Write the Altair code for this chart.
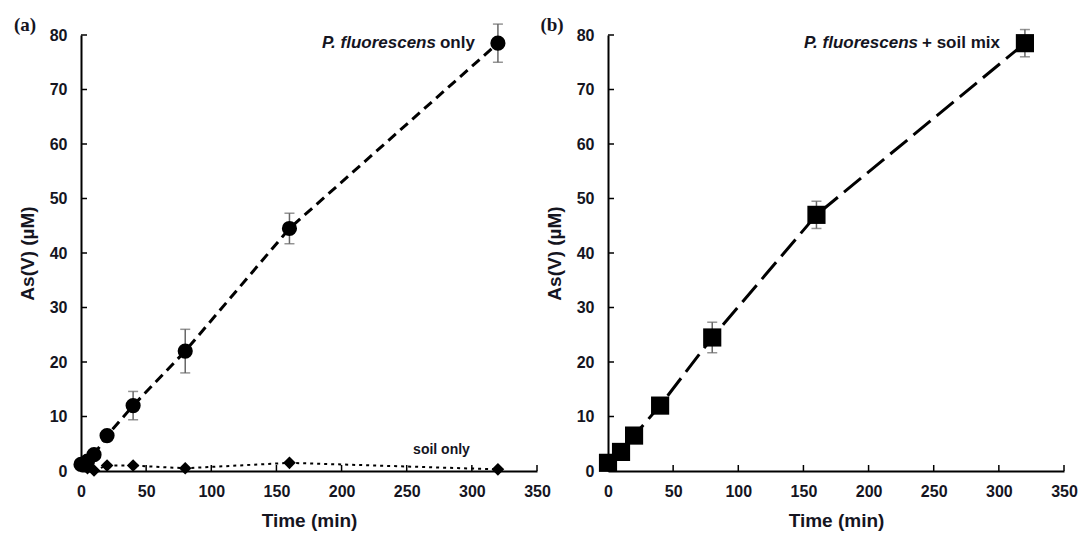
import altair as alt
import pandas as pd

# Panel (a): P. fluorescens only
t_a = [0, 5, 10, 20, 40, 80, 160, 320]
pf_a = [1.2, 1.8, 3.0, 6.5, 12.0, 22.0, 44.5, 78.5]
pf_a_err = [0.5, 0.5, 0.6, 0.8, 2.6, 4.0, 2.8, 3.5]
# soil only
soil_a = [0.9, 0.5, 0.1, 1.0, 1.0, 0.5, 1.5, 0.3]

# Panel (b): P. fluorescens + soil mix
t_b = [0, 10, 20, 40, 80, 160, 320]
mix_b = [1.5, 3.5, 6.5, 12.0, 24.5, 47.0, 78.5]
mix_b_err = [0.4, 0.5, 0.6, 0.8, 2.8, 2.5, 2.5]

x_ticks = [0, 50, 100, 150, 200, 250, 300, 350]
y_ticks = [0, 10, 20, 30, 40, 50, 60, 70, 80]

W, H = 456, 436
FONT = "Liberation Sans"
TXT = "#15151f"

xs = alt.Scale(domain=[0, 350], nice=False, zero=True)
ys = alt.Scale(domain=[0, 80], nice=False)

x_axis = alt.Axis(values=x_ticks, title="Time (min)", ticks=False, labelFlush=False)
y_axis = alt.Axis(values=y_ticks, title="As(V) (µM)", ticks=False, labelFlush=False)

df_pf = pd.DataFrame({"t": t_a, "v": pf_a,
                      "lo": [v - e for v, e in zip(pf_a, pf_a_err)],
                      "hi": [v + e for v, e in zip(pf_a, pf_a_err)]})
df_soil = pd.DataFrame({"t": t_a, "v": soil_a})
df_mix = pd.DataFrame({"t": t_b, "v": mix_b,
                       "lo": [v - e for v, e in zip(mix_b, mix_b_err)],
                       "hi": [v + e for v, e in zip(mix_b, mix_b_err)]})
df_xt = pd.DataFrame({"x": x_ticks})
df_yt = pd.DataFrame({"y": y_ticks})


def tick_layers():
    xt = alt.Chart(df_xt).mark_rule(color="black", strokeWidth=1.5).encode(
        x=alt.X("x:Q", scale=xs, axis=x_axis), y=alt.value(H), y2=alt.value(H - 6))
    yt = alt.Chart(df_yt).mark_rule(color="black", strokeWidth=1.5).encode(
        y=alt.Y("y:Q", scale=ys, axis=y_axis), x=alt.value(0), x2=alt.value(6))
    return [xt, yt]


def err_layers(df):
    base = alt.Chart(df)
    bar = base.mark_rule(color="#666", strokeWidth=1.5).encode(
        x=alt.X("t:Q", scale=xs, axis=x_axis),
        y=alt.Y("lo:Q", scale=ys, axis=y_axis), y2="hi:Q")
    cap_lo = base.mark_tick(color="#666", orient="horizontal", size=10, thickness=1.5).encode(
        x=alt.X("t:Q", scale=xs, axis=x_axis), y=alt.Y("lo:Q", scale=ys, axis=y_axis))
    cap_hi = base.mark_tick(color="#666", orient="horizontal", size=10, thickness=1.5).encode(
        x=alt.X("t:Q", scale=xs, axis=x_axis), y=alt.Y("hi:Q", scale=ys, axis=y_axis))
    return [bar, cap_lo, cap_hi]


def series(df, dash, width, shape, size):
    base = alt.Chart(df).encode(x=alt.X("t:Q", scale=xs, axis=x_axis),
                                y=alt.Y("v:Q", scale=ys, axis=y_axis))
    line = base.mark_line(color="black", strokeDash=dash, strokeWidth=width)
    pts = base.mark_point(shape=shape, filled=True, color="black", opacity=1, size=size)
    return [line, pts]


def label(txt, x, y, align="right", dx=0, style="normal", size=17):
    return alt.Chart(pd.DataFrame({"a": [0]})).mark_text(
        text=txt, align=align, baseline="middle", dx=dx, font=FONT, fontSize=size,
        fontStyle=style, fontWeight="bold", color=TXT).encode(
        x=alt.datum(x, scale=xs), y=alt.datum(y, scale=ys))


def panel_tag(txt):
    return alt.Chart(pd.DataFrame({"a": [0]})).mark_text(
        text=txt, font="Liberation Serif", fontWeight="bold", fontSize=19,
        align="center", baseline="middle", color=TXT).encode(
        x=alt.value(-56), y=alt.value(-10))


panel_a = alt.layer(
    *tick_layers(),
    *series(df_soil, [3, 4], 2, "diamond", 160),
    *err_layers(df_pf),
    *series(df_pf, [10, 6], 3, "circle", 230),
    label("only", 275.5, 78.5, align="left"),
    label("P. fluorescens", 275.5, 78.5, dx=-4, style="italic"),
    label("soil only", 298.5, 3.8, size=14),
    panel_tag("(a)"),
).properties(width=W, height=H)

panel_b = alt.layer(
    *tick_layers(),
    *err_layers(df_mix),
    *series(df_mix, [22, 8], 3, "square", 330),
    label("+ soil mix", 241.0, 78.5, align="left"),
    label("P. fluorescens", 241.0, 78.5, dx=-4, style="italic"),
    panel_tag("(b)"),
).properties(width=W, height=H)

chart = alt.hconcat(panel_a, panel_b, spacing=71, bounds="flush").properties(
    padding={"left": 13, "top": 16, "right": 5, "bottom": 5}
).configure_view(stroke=None).configure_axis(
    domainColor="black", domainWidth=2, grid=False,
    labelFont=FONT, labelFontSize=16, labelFontWeight="bold", labelColor=TXT,
    labelPadding=14, titleFont=FONT, titleFontSize=19, titleFontWeight="bold",
    titleColor=TXT, titlePadding=12
).configure_axisX(labelPadding=12, titlePadding=12)

chart.save("out.html", embed_options={"renderer": "svg", "actions": False})
